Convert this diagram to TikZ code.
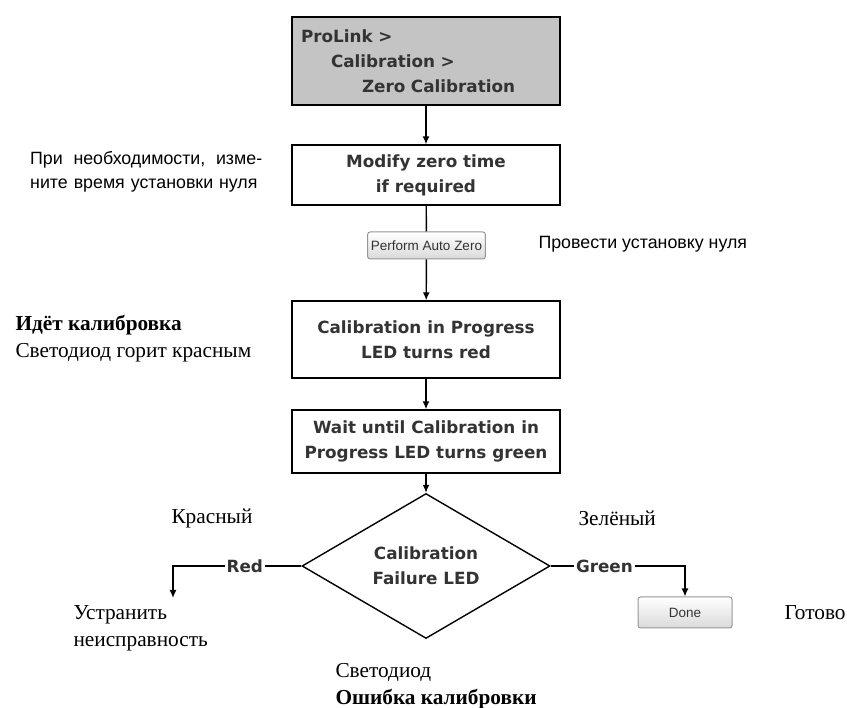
\documentclass[tikz,border=0pt]{standalone}
\usepackage{fontspec}
\setmainfont{Liberation Serif}
\newfontfamily\boxfont{DejaVu Sans}
\newfontfamily\notefont{Liberation Sans}
\newfontfamily\keyfont{Liberation Sans}
\usetikzlibrary{arrows.meta,shapes.geometric}
\definecolor{navgray}{RGB}{196,196,196}
\definecolor{boxtext}{RGB}{51,51,51}
\definecolor{keyedge}{RGB}{150,150,150}
\definecolor{keyshade}{RGB}{218,218,218}

\begin{document}
\begin{tikzpicture}[x=1pt,y=-1pt,>={Latex[length=8pt,width=7pt]},
		stepbox/.style={draw,line width=1.4pt,minimum width=268pt,align=center,
			font=\boxfont\bfseries\fontsize{16.8}{25}\selectfont,text=boxtext},
		keybox/.style={draw=keyedge,line width=1pt,rounded corners=2.5pt,
			top color=white,bottom color=keyshade,
			font=\keyfont\fontsize{13.5}{15}\selectfont,text=black!80},
		flow/.style={line width=1.4pt},
		branch/.style={fill=white,inner sep=2pt,text=boxtext,
			font=\boxfont\bfseries\fontsize{16.8}{18}\selectfont},
		note/.style={font=\fontsize{21.3}{27}\selectfont,align=left,anchor=west},
		sansnote/.style={font=\notefont\fontsize{17.8}{24}\selectfont}]
	
	\useasboundingbox (0,0) rectangle (847,708);
	
	% Main column of steps
	\node[stepbox,fill=navgray,minimum height=88pt,text width=250pt,inner xsep=9pt,align=left]
	(nav) at (426,61) {ProLink >\\\hspace*{30pt}Calibration >\\\hspace*{61pt}Zero Calibration};
	\node[stepbox,minimum height=60pt] (modify) at (426,175) {Modify zero time\\if required};
	\node[keybox,minimum width=113pt,minimum height=27pt] (autozero) at (426.5,245.5) {Perform Auto Zero};
	\node[stepbox,minimum height=77pt] (progress) at (426,339.5) {Calibration in Progress\\LED turns red};
	\node[stepbox,minimum height=63pt] (wait) at (426,441.5) {Wait until Calibration in\\Progress LED turns green};
	\node[stepbox,diamond,minimum width=248pt,minimum height=124pt,inner sep=0pt]
	(decide) at (426,566) {Calibration\\Failure LED};
	\node[keybox,minimum width=94pt,minimum height=31pt] (done) at (685,612.5) {Done};
	\coordinate (fixend) at (173,598);
	
	% Connectors
	\draw[flow,->] (nav) -- (modify);
	\draw[flow] (modify) -- (autozero);
	\draw[flow,->] (autozero) -- (progress);
	\draw[flow,->] (progress) -- (wait);
	\draw[flow,->] (wait) -- (decide);
	\draw[flow,->] (decide.west) -| node[branch,pos=0.22] {Red} (fixend);
	\draw[flow,->] (decide.east) -| node[branch,pos=0.2] {Green} (done.north);
	
	% Russian notes
	\node[sansnote,text width=232pt,inner xsep=0pt,align=left,anchor=west] (modifynote) at (30,172)
	{\makebox[\linewidth]{При\hfill необходимости,\hfill изме-}\\ните время установки нуля};
	\node[sansnote,anchor=west] (zeronote) at (535,244) {Провести установку нуля};
	\node[note] (progressnote) at (12,339) {\textbf{Идёт калибровка}\\Светодиод горит красным};
	\node[note] (rednote) at (168,518) {Красный};
	\node[note] (greennote) at (575,518) {Зелёный};
	\node[note] (fixnote) at (70,628) {Устранить\\неисправность};
	\node[note] (donenote) at (781,613) {Готово};
	\node[note] (ledenote) at (332,686) {Светодиод\\\textbf{Ошибка калибровки}};
	
\end{tikzpicture}
\end{document}
